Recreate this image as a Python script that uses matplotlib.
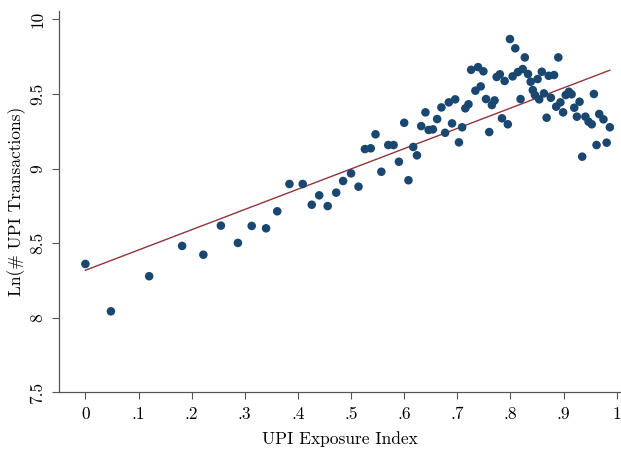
import matplotlib
matplotlib.use("Agg")
import matplotlib.pyplot as plt
import numpy as np

# Binned means: UPI exposure index vs log UPI transactions
exposure = [0.000, 0.048, 0.120, 0.182, 0.222, 0.255, 0.287, 0.313, 0.340, 0.361,
            0.384, 0.409, 0.426, 0.440, 0.456, 0.472, 0.485, 0.500, 0.514, 0.526,
            0.537, 0.546, 0.557, 0.570, 0.580, 0.590, 0.600, 0.608, 0.617, 0.624,
            0.632, 0.640, 0.646, 0.654, 0.662, 0.670, 0.677, 0.684, 0.690, 0.696,
            0.703, 0.709, 0.715, 0.721, 0.726, 0.734, 0.739, 0.744, 0.749, 0.754,
            0.760, 0.765, 0.770, 0.774, 0.780, 0.784, 0.789, 0.795, 0.799, 0.804,
            0.809, 0.814, 0.819, 0.823, 0.827, 0.833, 0.838, 0.842, 0.846, 0.851,
            0.854, 0.859, 0.863, 0.868, 0.872, 0.876, 0.882, 0.886, 0.890, 0.894,
            0.899, 0.904, 0.910, 0.915, 0.920, 0.925, 0.930, 0.935, 0.941, 0.947,
            0.953, 0.957, 0.962, 0.967, 0.975, 0.981, 0.987]
ln_txn = [8.361, 8.044, 8.279, 8.482, 8.423, 8.618, 8.502, 8.616, 8.600, 8.714,
          8.897, 8.897, 8.758, 8.821, 8.749, 8.839, 8.917, 8.968, 8.879, 9.131,
          9.136, 9.230, 8.979, 9.158, 9.158, 9.046, 9.307, 8.922, 9.145, 9.089,
          9.285, 9.377, 9.259, 9.263, 9.332, 9.410, 9.240, 9.444, 9.303, 9.464,
          9.176, 9.277, 9.404, 9.431, 9.662, 9.522, 9.680, 9.551, 9.652, 9.466,
          9.245, 9.426, 9.457, 9.614, 9.632, 9.337, 9.587, 9.297, 9.868, 9.618,
          9.806, 9.647, 9.466, 9.667, 9.745, 9.634, 9.582, 9.526, 9.493, 9.600,
          9.464, 9.649, 9.504, 9.341, 9.622, 9.475, 9.627, 9.415, 9.745, 9.444,
          9.377, 9.493, 9.515, 9.498, 9.408, 9.348, 9.448, 9.080, 9.348, 9.314,
          9.297, 9.500, 9.158, 9.366, 9.330, 9.174, 9.277]

# Linear fit
fit_intercept = 8.319
fit_slope = 1.358

x_ticks = [0, 0.1, 0.2, 0.3, 0.4, 0.5, 0.6, 0.7, 0.8, 0.9, 1.0]
x_tick_labels = ["0", ".1", ".2", ".3", ".4", ".5", ".6", ".7", ".8", ".9", "1"]
y_ticks = [7.5, 8, 8.5, 9, 9.5, 10]
y_tick_labels = ["7.5", "8", "8.5", "9", "9.5", "10"]

plt.rcParams["font.family"] = ["cmr10", "DejaVu Serif"]
plt.rcParams["axes.unicode_minus"] = False

navy = "#1a476f"
cranberry = "#90353b"
axis_gray = "#555555"

fig = plt.figure(figsize=(6.21, 4.5), dpi=100)
ax = fig.add_axes([0.095, 0.1278, 0.905, 0.8484])

xs = np.array(exposure)
ax.scatter(xs, ln_txn, s=38, color=navy, edgecolors="none", zorder=3)
xl = np.array([xs.min(), xs.max()])
ax.plot(xl, fit_intercept + fit_slope * xl, color=cranberry, lw=1.0, zorder=2)

ax.set_xlim(-0.0497, 1.008)
ax.set_ylim(7.5, 10.058)

ax.set_xticks(x_ticks)
ax.set_xticklabels(x_tick_labels)
ax.set_yticks(y_ticks)
ax.set_yticklabels(y_tick_labels, rotation=90, va="center")

for side in ("top", "right"):
    ax.spines[side].set_visible(False)
for side in ("left", "bottom"):
    ax.spines[side].set_color(axis_gray)
    ax.spines[side].set_linewidth(0.9)

ax.tick_params(axis="both", which="major", length=5, width=0.8,
               color=axis_gray, labelsize=12.5, labelcolor="black", pad=5)

ax.set_xlabel("UPI Exposure Index", fontsize=12.5, labelpad=6.5)
ax.set_ylabel("Ln(# UPI Transactions)", fontsize=12.5, labelpad=2.5)

fig.savefig("out.png", dpi=100)
